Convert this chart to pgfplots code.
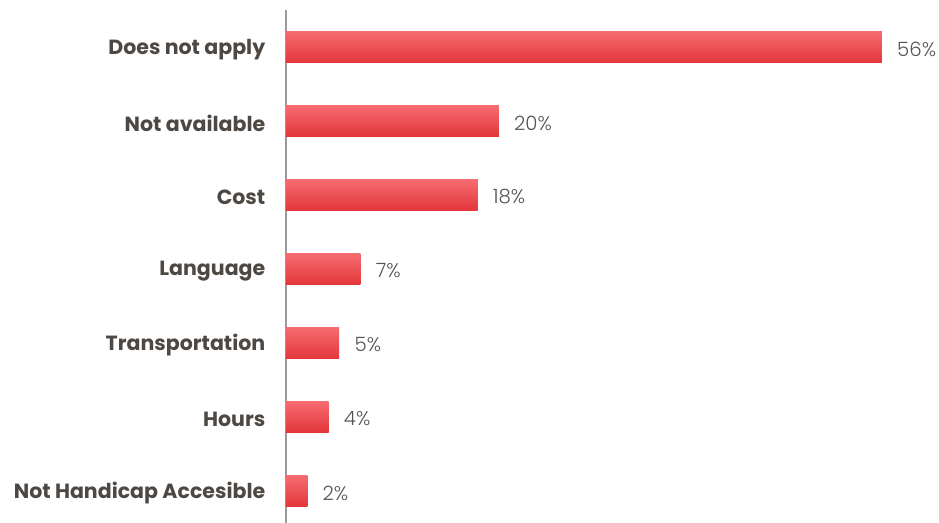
\documentclass[border=0pt]{standalone}
\usepackage{fontspec}
\setmainfont{Poppins}
\newfontfamily\lightfont{Poppins}[UprightFont=* Light]
\usepackage{pgfplots}
\pgfplotsset{compat=1.18}
\definecolor{barTop}{HTML}{F56C70}
\definecolor{barMid}{HTML}{F2474A}
\definecolor{barBot}{HTML}{E3363A}
\definecolor{lblcol}{HTML}{4D4843}
\definecolor{valcol}{HTML}{555555}
\definecolor{axcol}{HTML}{9A9A9A}
\begin{document}
\begin{tikzpicture}
\useasboundingbox (-214.5pt,0pt) rectangle (489.75pt,392.25pt);
\begin{axis}[
  scale only axis,
  width=489.75pt, height=384.75pt,
  xmin=0, xmax=61.37,
  ymin=-0.432, ymax=6.5,
  xbar, bar width=23.25pt, bar shift=0pt,
  axis x line=none,
  axis y line*=left,
  y axis line style={draw=axcol, line width=1.5pt},
  ytick={0,1,2,3,4,5,6},
  yticklabels={Not Handicap Accesible,Hours,Transportation,Language,Cost,Not available,Does not apply},
  major tick length=0pt,
  yticklabel style={font=\fontsize{15.4}{18}\selectfont\bfseries, text=lblcol, anchor=east, xshift=-12pt, yshift=-1.8pt},
  clip=false,
  /pgf/number format/assume math mode=true,
  nodes near coords={\pgfmathprintnumber{\pgfplotspointmeta}\%},
  nodes near coords style={font=\lightfont\fontsize{14.8}{17}\selectfont, text=valcol, anchor=west, xshift=8pt, yshift=-1.5pt},
  every axis plot/.append style={draw=none, top color=barTop, middle color=barMid, bottom color=barBot},
]
\addplot coordinates {(2,0)};
\addplot coordinates {(4,1)};
\addplot coordinates {(5,2)};
\addplot coordinates {(7,3)};
\addplot coordinates {(18,4)};
\addplot coordinates {(20,5)};
\addplot coordinates {(56,6)};
\end{axis}
\end{tikzpicture}
\end{document}
